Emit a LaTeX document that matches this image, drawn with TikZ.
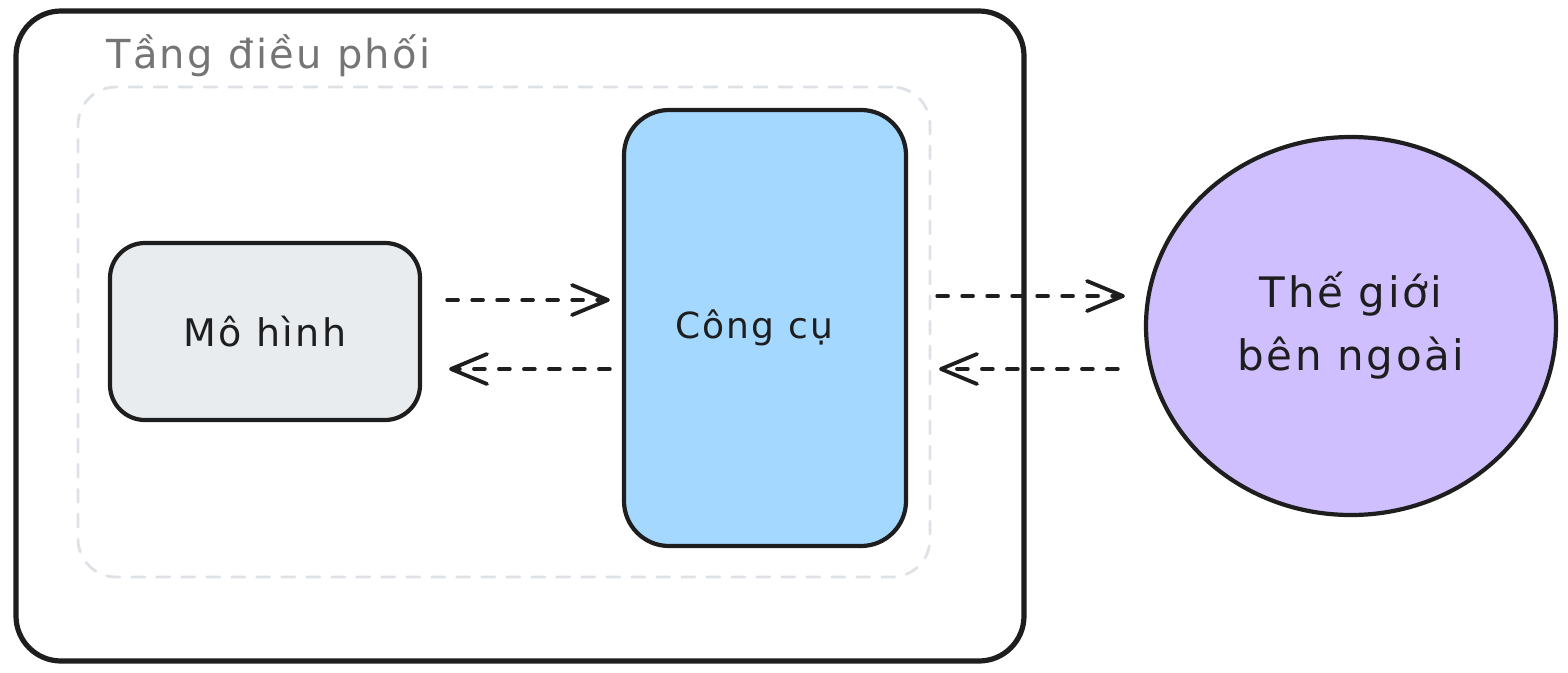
\documentclass[tikz,border=0pt]{standalone}
\usepackage{fontspec}
\setmainfont{DejaVu Sans}[LetterSpace=6]
\usetikzlibrary{arrows.meta,shapes.geometric}
\definecolor{ink}{HTML}{1E1E1E}
\definecolor{labelgray}{HTML}{757575}
\definecolor{dashgray}{HTML}{DEE2E6}
\definecolor{modelfill}{HTML}{E9ECEF}
\definecolor{toolfill}{HTML}{A5D8FF}
\definecolor{worldfill}{HTML}{D0BFFF}
\begin{document}
\begin{tikzpicture}[x=1pt,y=-1pt,
  txt/.style={text=ink},
  shapebox/.style={draw=ink, line width=4.2pt, inner sep=0pt, txt},
  flow/.style={draw=ink, line width=3.6pt, line cap=round, dash pattern=on 11pt off 14pt,
    -{Straight Barb[length=36pt,width=30pt,line width=3.8pt,round]}}
]
\useasboundingbox (0,0) rectangle (1568,672);
\fill[white] (0,0) rectangle (1568,672);

\node[draw=ink, line width=5.2pt, rounded corners=45pt, minimum width=1008pt,
  minimum height=650pt, inner sep=0pt] (outer) at (520,336) {};
\node[draw=dashgray, line width=2.8pt, line cap=round, dash pattern=on 13pt off 12pt,
  rounded corners=38pt, minimum width=852pt, minimum height=490pt,
  inner sep=0pt] (orch) at (504,332) {};
\node[text=labelgray, font=\fontsize{40}{48}\selectfont, anchor=base west, inner sep=0pt] (orchlabel)
  at (106,68) {Tầng điều phối};

\node[shapebox, fill=modelfill, rounded corners=35pt, minimum width=310pt,
  minimum height=177pt, font=\fontsize{38}{46}\selectfont] (model) at (265,331.5) {Mô hình};
\node[shapebox, fill=toolfill, rounded corners=45pt, minimum width=282pt,
  minimum height=436pt, font=\fontsize{36}{44}\selectfont] (tool) at (765,328) {\hspace*{-22pt}Công cụ};
\node[shapebox, ellipse, fill=worldfill, minimum width=410pt,
  minimum height=378pt, align=center, font=\fontsize{42}{63}\selectfont] (world) at (1351,326)
  {Thế giới\\bên ngoài};

\coordinate (r1) at (0,300);
\coordinate (r2) at (0,369);
\coordinate (r3) at (0,296);

\draw[flow, shorten <=25pt, shorten >=12pt] (model.east |- r1) -- (tool.west |- r1);
\draw[flow, shorten <=12pt, shorten >=27pt] (tool.west |- r2) -- (model.east |- r2);
\draw[flow, shorten <=29pt, shorten >=19pt] (tool.east |- r3) -- (world.west |- r3);
\draw[flow, shorten <=26pt, shorten >=31pt] (world.west |- r2) -- (tool.east |- r2);
\end{tikzpicture}
\end{document}
